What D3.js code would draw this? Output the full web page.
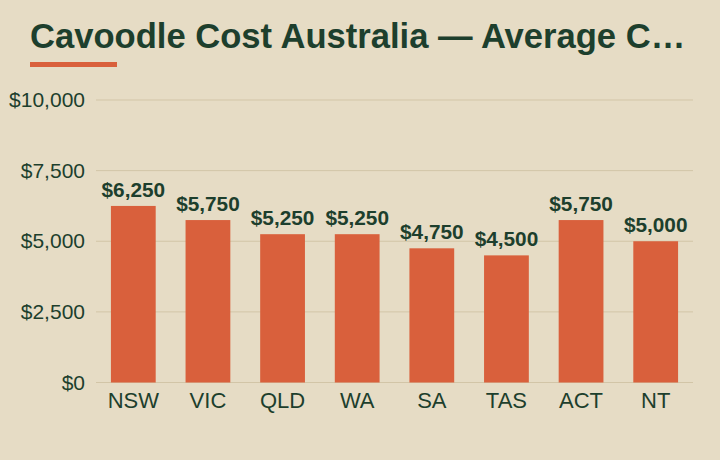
<!DOCTYPE html>
<html>
<head>
<meta charset="utf-8">
<script src="https://cdn.jsdelivr.net/npm/d3@7/dist/d3.min.js"></script>
<style>
  html, body { margin: 0; padding: 0; background: #e6dcc5; }
  svg { display: block; font-family: "Liberation Sans", Arial, sans-serif; }
</style>
</head>
<body>
<div id="chart"></div>
<script>
const title = 'Cavoodle Cost Australia \u2014 Average C\u2026'
const states = ['NSW', 'VIC', 'QLD', 'WA', 'SA', 'TAS', 'ACT', 'NT']
const costs = [6250, 5750, 5250, 5250, 4750, 4500, 5750, 5000]
const yTicks = [0, 2500, 5000, 7500, 10000]

const width = 720, height = 460
const padding = { left: 96, top: 100, right: 27, bottom: 77.5 }
const green = '#1d3f2d', orange = '#d9603c'

const svg = d3.select('#chart').append('svg')
  .attr('width', width)
  .attr('height', height)

svg.append('rect')
  .attr('width', width).attr('height', height)
  .attr('fill', '#e6dcc5')

svg.append('text')
  .attr('x', 30).attr('y', 48)
  .attr('fill', green)
  .attr('font-size', 34.6)
  .attr('font-weight', 'bold')
  .text(title)

svg.append('rect')
  .attr('x', 30).attr('y', 62)
  .attr('width', 87).attr('height', 5)
  .attr('fill', orange)

const x = d3.scaleBand()
  .domain(states)
  .range([padding.left, width - padding.right])
  .paddingInner(0.4)
  .paddingOuter(0.2)

const y = d3.scaleLinear()
  .domain([0, 10000])
  .range([height - padding.bottom, padding.top])

// grid
svg.append('g')
  .selectAll('line')
  .data(yTicks)
  .join('line')
  .attr('x1', padding.left).attr('x2', width - padding.right)
  .attr('y1', d => y(d)).attr('y2', d => y(d))
  .attr('stroke', '#d2c5a7')
  .attr('stroke-width', 1)

const yAxis = svg.append('g')
  .attr('transform', `translate(${padding.left}, 0)`)
  .call(d3.axisLeft(y).tickValues(yTicks).tickSize(0).tickPadding(11)
    .tickFormat(d => '$' + d3.format(',')(d)))
yAxis.select('.domain').remove()
yAxis.selectAll('text')
  .attr('font-size', 21)
  .attr('fill', green)
  .attr('font-family', '"Liberation Sans", Arial, sans-serif')

const xAxis = svg.append('g')
  .attr('transform', `translate(0, ${y(0)})`)
  .call(d3.axisBottom(x).tickSize(0).tickPadding(10))
xAxis.select('.domain').remove()
xAxis.selectAll('text')
  .attr('font-size', 22)
  .attr('fill', green)
  .attr('font-family', '"Liberation Sans", Arial, sans-serif')

svg.append('g')
  .selectAll('rect')
  .data(costs)
  .join('rect')
  .attr('x', (d, i) => x(states[i]))
  .attr('y', d => y(d))
  .attr('width', x.bandwidth())
  .attr('height', d => y(0) - y(d))
  .attr('fill', orange)

svg.append('g')
  .selectAll('text')
  .data(costs)
  .join('text')
  .attr('x', (d, i) => x(states[i]) + x.bandwidth() / 2)
  .attr('y', d => y(d) - 9)
  .attr('text-anchor', 'middle')
  .attr('font-size', 20.8)
  .attr('font-weight', 'bold')
  .attr('fill', green)
  .text(d => '$' + d3.format(',')(d))
</script>
</body>
</html>
